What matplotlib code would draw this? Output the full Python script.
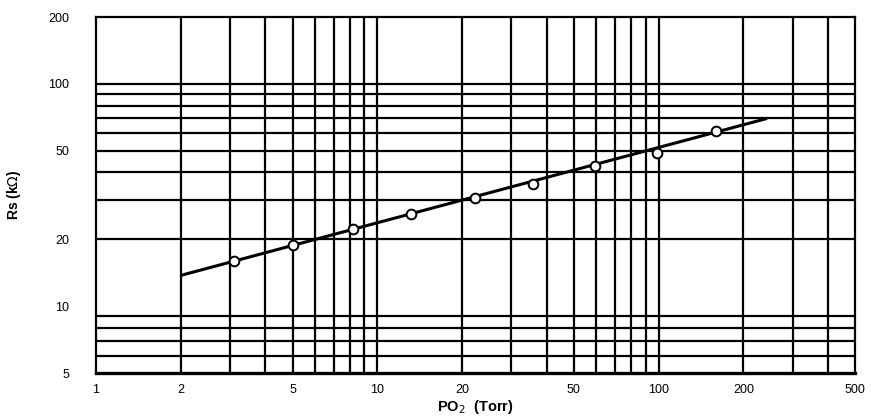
import matplotlib.pyplot as plt
from matplotlib.ticker import FixedLocator, NullFormatter, NullLocator

# measured points (PO2 in Torr, Rs in kOhm)
po2 = [3.1, 5.0, 8.2, 13.2, 22.3, 35.9, 59.2, 98.4, 159.5]
rs = [16.0, 18.9, 22.3, 26.0, 30.7, 35.5, 42.8, 49.0, 61.5]

# fitted line end points
fit_x = [2.02, 240]
fit_y = [13.8, 69.7]

x_ticks = [1, 2, 5, 10, 20, 50, 100, 200, 500]
x_tick_labels = ["1", "2", "5", "10", "20", "50", "100", "200", "500"]
y_ticks = [5, 10, 20, 50, 100, 200]
y_tick_labels = ["5", "10", "20", "50", "100", "200"]

# grid lines as drawn on the original paper
x_grid = [2, 3, 4, 5, 6, 7, 8, 9, 10, 20, 30, 40, 50, 60, 70, 80, 90, 100, 200, 300, 400]
y_grid = [6, 7, 8, 9, 20, 30, 40, 50, 60, 70, 80, 90, 100]

plt.rcParams['font.family'] = ['Liberation Sans', 'DejaVu Sans']

fig = plt.figure(figsize=(8.71, 4.16), dpi=100)
ax = fig.add_axes([0.110, 0.103, 0.872, 0.856])
ax.set_xscale('log')
ax.set_yscale('log')
ax.set_xlim(1, 500)
ax.set_ylim(5, 200)

for gx in x_grid:
    ax.axvline(gx, color='black', lw=1.6, zorder=1)
for gy in y_grid:
    ax.axhline(gy, color='black', lw=1.6, zorder=1)

ax.plot(fit_x, fit_y, color='black', lw=2.2, zorder=2)
ax.plot(po2, rs, 'o', ms=7, mfc='white', mec='black', mew=1.4, zorder=3)

ax.xaxis.set_major_locator(FixedLocator(x_ticks))
ax.set_xticklabels(x_tick_labels)
ax.xaxis.set_minor_locator(NullLocator())
ax.xaxis.set_minor_formatter(NullFormatter())
ax.yaxis.set_major_locator(FixedLocator(y_ticks))
ax.set_yticklabels(y_tick_labels)
ax.yaxis.set_minor_locator(NullLocator())
ax.yaxis.set_minor_formatter(NullFormatter())
ax.tick_params(axis='both', length=0, labelsize=9)
ax.tick_params(axis='x', pad=8)
ax.tick_params(axis='y', pad=19)

for side in ['left', 'right', 'top']:
    ax.spines[side].set_linewidth(1.6)
ax.spines['bottom'].set_linewidth(2.4)

ax.set_xlabel(r"PO$_{2}$  (Torr)", fontsize=10.5, fontweight='bold', labelpad=1)
ax.set_ylabel(r"Rs (k$\Omega$)", fontsize=10, fontweight='bold', labelpad=18)

fig.savefig("out.png", dpi=100)
